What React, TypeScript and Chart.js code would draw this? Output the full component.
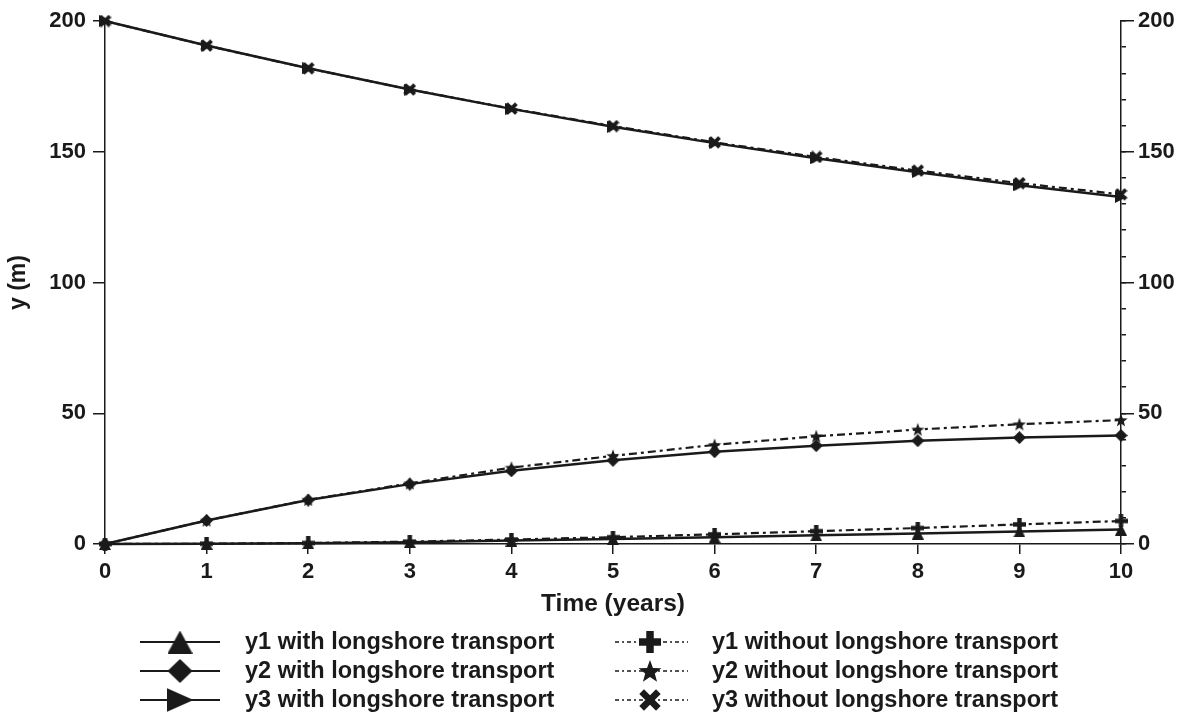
import React, { useEffect, useRef } from "react";
import { Chart, registerables } from "chart.js";

Chart.register(...registerables);

// ---- data ----
const years = [0, 1, 2, 3, 4, 5, 6, 7, 8, 9, 10];
const y1With = [0, 0.1, 0.3, 0.7, 1.3, 1.9, 2.6, 3.3, 4.0, 4.8, 5.5];
const y2With = [0, 9.0, 16.8, 22.9, 28.0, 32.0, 35.3, 37.6, 39.5, 40.7, 41.5];
const y3With = [200, 190.6, 181.9, 173.8, 166.4, 159.6, 153.3, 147.5, 142.2, 137.2, 132.7];
const y1Without = [0, 0.1, 0.4, 0.9, 1.7, 2.6, 3.7, 4.9, 6.1, 7.5, 8.8];
const y2Without = [0, 9.0, 16.9, 23.2, 29.2, 33.7, 37.9, 41.2, 43.8, 45.8, 47.4];
const y3Without = [200, 190.6, 181.9, 173.8, 166.5, 159.8, 153.6, 148.0, 142.8, 138.0, 133.7];

const seriesLabels = [
  "y1 with longshore transport",
  "y2 with longshore transport",
  "y3 with longshore transport",
  "y1 without longshore transport",
  "y2 without longshore transport",
  "y3 without longshore transport",
];
const seriesValues = [y1With, y2With, y3With, y1Without, y2Without, y3Without];
const seriesShapes = ["triUp", "diamond", "triRight", "plus", "star", "x"];

const xTitle = "Time (years)";
const yTitle = "y (m)";

const INK = "#1a1a1a";
const FONT = "'Liberation Sans', Arial, sans-serif";

function makeMarker(shape: string, w: number, h: number): HTMLCanvasElement {
  const c = document.createElement("canvas");
  c.width = w;
  c.height = h;
  const ctx = c.getContext("2d") as CanvasRenderingContext2D;
  ctx.fillStyle = INK;
  ctx.strokeStyle = INK;
  const cx = w / 2, cy = h / 2;
  ctx.beginPath();
  if (shape === "triUp") {
    ctx.moveTo(cx, 0);
    ctx.lineTo(w, h);
    ctx.lineTo(0, h);
    ctx.closePath();
    ctx.fill();
  } else if (shape === "diamond") {
    ctx.moveTo(cx, 0);
    ctx.lineTo(w, cy);
    ctx.lineTo(cx, h);
    ctx.lineTo(0, cy);
    ctx.closePath();
    ctx.fill();
  } else if (shape === "triRight") {
    ctx.moveTo(0, 0);
    ctx.lineTo(w, cy);
    ctx.lineTo(0, h);
    ctx.closePath();
    ctx.fill();
  } else if (shape === "plus") {
    const t = w * 0.34;
    ctx.fillRect(cx - t / 2, 0, t, h);
    ctx.fillRect(0, cy - t / 2, w, t);
  } else if (shape === "star") {
    const R = Math.min(w, h) / 2;
    const r = R * 0.42;
    for (let i = 0; i < 10; i++) {
      const a = -Math.PI / 2 + (i * Math.PI) / 5;
      const rad = i % 2 === 0 ? R : r;
      const px = cx + rad * Math.cos(a);
      const py = cy + rad * Math.sin(a) + R * 0.08;
      if (i === 0) ctx.moveTo(px, py);
      else ctx.lineTo(px, py);
    }
    ctx.closePath();
    ctx.fill();
  } else if (shape === "x") {
    ctx.lineWidth = w * 0.3;
    const m = w * 0.12;
    ctx.moveTo(m, m);
    ctx.lineTo(w - m, h - m);
    ctx.moveTo(w - m, m);
    ctx.lineTo(m, h - m);
    ctx.stroke();
  }
  return c;
}

const legendRowsY = [642, 671, 700];
const legendCols = [
  { x0: 140, x1: 220, mx: 180, tx: 245, dash: [] as number[], lw: 2 },
  { x0: 615, x1: 688, mx: 650, tx: 712, dash: [4, 3, 2, 3], lw: 1.6 },
];

export default function App() {
  const ref = useRef<HTMLCanvasElement | null>(null);

  useEffect(() => {
    const canvas = ref.current;
    if (!canvas) return;

    const plotMarkers = seriesShapes.map((s) =>
      s === "triUp" || s === "triRight" ? makeMarker(s, 12, 12) : s === "star" ? makeMarker(s, 14, 14) : makeMarker(s, 13, 13)
    );
    const legendMarkers = seriesShapes.map((s) =>
      s === "triUp" ? makeMarker(s, 25, 23) : s === "triRight" ? makeMarker(s, 27, 24) : s === "diamond" ? makeMarker(s, 25, 24) : s === "star" ? makeMarker(s, 24, 24) : makeMarker(s, 22, 22)
    );

    const legendPlugin = {
      id: "customLegend",
      afterDraw(chart: any) {
        const ctx = chart.ctx as CanvasRenderingContext2D;
        chart.data.datasets.forEach((ds: any, i: number) => {
          const col = legendCols[i < 3 ? 0 : 1];
          const y = legendRowsY[i % 3];
          ctx.save();
          ctx.strokeStyle = INK;
          ctx.lineWidth = col.lw;
          ctx.setLineDash(col.dash);
          ctx.beginPath();
          ctx.moveTo(col.x0, y);
          ctx.lineTo(col.x1, y);
          ctx.stroke();
          ctx.setLineDash([]);
          const mk = legendMarkers[i];
          ctx.drawImage(mk, col.mx - mk.width / 2, y - mk.height / 2);
          ctx.font = `bold 23.5px ${FONT}`;
          ctx.fillStyle = INK;
          ctx.textBaseline = "middle";
          ctx.textAlign = "left";
          ctx.fillText(ds.label, col.tx, y + 1);
          ctx.restore();
        });
      },
    };

    const datasets = seriesValues.map((vals, i) => ({
      label: seriesLabels[i],
      data: years.map((x, j) => ({ x, y: vals[j] })),
      borderColor: INK,
      backgroundColor: INK,
      borderWidth: i < 3 ? 2.5 : 2.2,
      borderDash: i < 3 ? [] : [8, 4, 3, 4],
      pointStyle: plotMarkers[i] as any,
      pointRadius: 6,
      tension: 0,
      clip: false as any,
      yAxisID: "y",
    }));

    const axisLine = { display: true, color: INK, width: 1.5 };
    const tickFont = { family: FONT, size: 22, weight: "bold" as any };

    const chart = new Chart(canvas, {
      type: "line",
      data: { datasets },
      plugins: [legendPlugin],
      options: {
        responsive: false,
        animation: false,
        layout: { padding: { top: 21, bottom: 101, left: 0, right: 0 } },
        plugins: { legend: { display: false }, tooltip: { enabled: false } },
        scales: {
          x: {
            type: "linear",
            position: "bottom",
            min: 0,
            max: 10,
            ticks: { stepSize: 1, color: INK, font: tickFont, padding: 5, maxRotation: 0 },
            grid: { drawOnChartArea: false, tickLength: 10, color: INK, lineWidth: 1.5 },
            border: axisLine,
            title: { display: true, text: xTitle, color: INK, font: { family: FONT, size: 24.5, weight: "bold" as any }, padding: { top: 0, bottom: 0 } },
            afterFit: (s: any) => { s.height = 75; },
          },
          y: {
            type: "linear",
            position: "left",
            min: 0,
            max: 200,
            ticks: { stepSize: 50, color: INK, font: tickFont, padding: 7 },
            grid: { drawOnChartArea: false, tickLength: 12, color: INK, lineWidth: 1.5 },
            border: axisLine,
            title: { display: true, text: yTitle, color: INK, font: { family: FONT, size: 23, weight: "bold" as any }, padding: { top: 5, bottom: 0 } },
            afterFit: (s: any) => { s.width = 105; },
          },
          yMinor: {
            type: "linear",
            position: "right",
            weight: 0,
            min: 0,
            max: 200,
            ticks: { stepSize: 10, display: false },
            grid: { drawOnChartArea: false, tickLength: 5, color: INK, lineWidth: 1.5 },
            border: axisLine,
            afterFit: (s: any) => { s.width = 0; },
          },
          yRight: {
            type: "linear",
            position: "right",
            weight: 1,
            min: 0,
            max: 200,
            ticks: { stepSize: 50, color: INK, font: tickFont, padding: 4 },
            grid: { drawOnChartArea: false, tickLength: 13, color: INK, lineWidth: 1.5 },
            border: { display: false },
            afterFit: (s: any) => { s.width = 65; },
          },
        } as any,
      },
    });

    return () => chart.destroy();
  }, []);

  return (
    <div style={{ position: "absolute", left: 0, top: 0, width: 1186, height: 720, background: "#fff" }}>
      <canvas ref={ref} width={1186} height={720} style={{ display: "block" }} />
    </div>
  );
}
